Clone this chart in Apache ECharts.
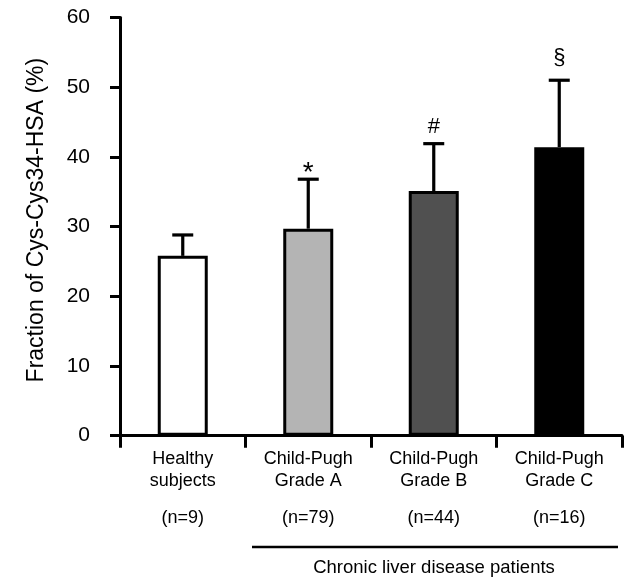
<!DOCTYPE html>
<html><head><meta charset="utf-8">
<script src="https://cdn.jsdelivr.net/npm/echarts@6/dist/echarts.min.js"></script>
<style>html,body{margin:0;padding:0;background:#fff;}#c{width:626px;height:579px;}</style>
</head><body><div id="c"></div>
<script>
const categories = ["Healthy\nsubjects", "Child-Pugh\nGrade A", "Child-Pugh\nGrade B", "Child-Pugh\nGrade C"];
const nLabels = ["(n=9)", "(n=79)", "(n=44)", "(n=16)"];
const means = [25.8, 29.7, 35.1, 41.4];
const errTops = [28.8, 36.8, 41.9, 51.0];
const marks = ["", "*", "#", "§"];
const fills = ["#ffffff", "#b4b4b4", "#505050", "#000000"];
const groupLabel = "Chronic liver disease patients";
const yTicks = [0, 10, 20, 30, 40, 50, 60];

const FONT = "Liberation Sans, Arial, sans-serif";
const markLift = {"*": -8, "#": 6, "§": 11};
const markSize = {"*": 28, "#": 22, "§": 22};
const chart = echarts.init(document.getElementById('c'), null, {renderer: 'canvas'});
chart.setOption({
  animation: false,
  grid: {left: 120, right: 4, top: 17.5, bottom: 143.3, containLabel: false},
  xAxis: {
    type: 'category', data: categories,
    axisLine: {lineStyle: {color: '#000', width: 3}},
    axisTick: {show: true, length: 12, lineStyle: {color: '#000', width: 3}},
    axisLabel: {
      margin: 13, color: '#000', fontFamily: FONT,
      formatter: function (v, i) {
        const parts = v.split('\n');
        return '{a|' + parts[0] + '}\n{a|' + parts[1] + '}\n{s| }\n{a|' + nLabels[i] + '}';
      },
      rich: {
        a: {fontSize: 18, lineHeight: 21.5, color: '#000', fontFamily: FONT},
        s: {fontSize: 10, lineHeight: 16}
      }
    }
  },
  yAxis: {
    type: 'value', min: 0, max: 60, interval: 10,
    name: 'Fraction of Cys-Cys34-HSA (%)', nameLocation: 'middle', nameGap: 72,
    nameTextStyle: {fontSize: 23, color: '#000', fontFamily: FONT, padding: [0, 0, 0, 13]},
    axisLine: {show: true, lineStyle: {color: '#000', width: 3}},
    axisTick: {show: true, length: 10, lineStyle: {color: '#000', width: 3}},
    axisLabel: {margin: 30, fontSize: 21, color: '#000', fontFamily: FONT,
      formatter: v => yTicks.includes(v) ? String(v) : ''},
    splitLine: {show: false}
  },
  series: [
    {
      type: 'bar', barWidth: 50, z: 2,
      data: means.map((v, i) => ({value: v, itemStyle: {color: fills[i]}})),
      itemStyle: {borderColor: '#000', borderWidth: 3}
    },
    {
      type: 'custom', z: 3,
      data: means.map((v, i) => [i, v, errTops[i]]),
      renderItem: function (params, api) {
        const x = api.coord([api.value(0), 0])[0];
        const yb = api.coord([0, api.value(1)])[1];
        const yt = api.coord([0, api.value(2)])[1];
        const st = {stroke: '#000', lineWidth: 3.2};
        const children = [
          {type: 'line', shape: {x1: x, y1: yb, x2: x, y2: yt}, style: st},
          {type: 'line', shape: {x1: x - 10.5, y1: yt, x2: x + 10.5, y2: yt}, style: st}
        ];
        const m = marks[params.dataIndex];
        if (m) {
          children.push({type: 'text', style: {text: m, x: x, y: yt - markLift[m], align: 'center', verticalAlign: 'bottom',
            fontSize: markSize[m], fontFamily: FONT, fill: '#000'}});
        }
        return {type: 'group', children: children};
      }
    }
  ],
  graphic: [
    {type: 'line', shape: {x1: 252, y1: 547, x2: 618, y2: 547}, style: {stroke: '#000', lineWidth: 2.5}},
    {type: 'text', style: {text: groupLabel, x: 434, y: 568, align: 'center', verticalAlign: 'middle',
      fontSize: 18.5, fontFamily: FONT, fill: '#000'}}
  ]
});
</script></body></html>
